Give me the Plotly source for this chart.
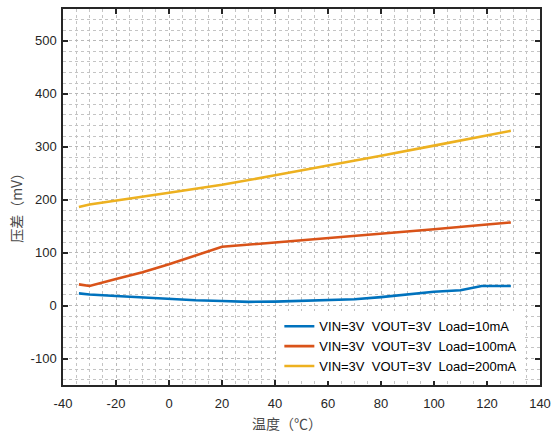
import plotly.graph_objects as go

blue_x = [-34, -30, -20, -10, 0, 10, 20, 30, 40, 50, 60, 70, 80, 90, 100, 110, 118, 129]
blue_y = [23, 21, 18, 15, 12.5, 10, 8.5, 7, 7.5, 9, 10.5, 12, 16, 21, 26, 29, 37, 37]

orange_x = [-34, -30, -20, -10, 0, 10, 20, 40, 60, 80, 100, 120, 129]
orange_y = [40, 37, 50, 63, 78, 94, 111, 119, 127, 135, 144, 153, 157]

yellow_x = [-34, -30, 0, 20, 40, 60, 80, 100, 120, 129]
yellow_y = [186, 191, 213, 228, 246, 264, 283, 302, 322, 330]

names = ["VIN=3V\u00a0\u00a0VOUT=3V\u00a0\u00a0Load=10mA",
         "VIN=3V\u00a0\u00a0VOUT=3V\u00a0\u00a0Load=100mA",
         "VIN=3V\u00a0\u00a0VOUT=3V\u00a0\u00a0Load=200mA"]
colors = ["#0072BD", "#D95319", "#EDB120"]

x_ticks = [-40, -20, 0, 20, 40, 60, 80, 100, 120, 140]
y_ticks = [-100, 0, 100, 200, 300, 400, 500]

fig = go.Figure()
for xs, ys, n, c in zip([blue_x, orange_x, yellow_x], [blue_y, orange_y, yellow_y], names, colors):
    fig.add_trace(go.Scatter(x=xs, y=ys, mode="lines", name=n,
                             line=dict(color=c, width=2.6)))

axis_common = dict(
    showline=True, linecolor="#262626", linewidth=1.5, mirror="allticks",
    ticks="inside", ticklen=5, tickwidth=1.5, tickcolor="#262626",
    zeroline=False,
    tickfont=dict(family="Liberation Sans, Arial", size=13, color="#262626"),
    showgrid=True, gridcolor="#b8b8b8", griddash="dot", gridwidth=1,
)

fig.update_xaxes(range=[-40, 140], tickvals=x_ticks, ticktext=[str(v) for v in x_ticks],
                 minor=dict(dtick=5, showgrid=True, gridcolor="#c4c4c4", griddash="dot", ticks=""),
                 ticklabelstandoff=6, **axis_common)
fig.update_yaxes(range=[-150, 560], tickvals=y_ticks, ticktext=[str(v) for v in y_ticks],
                 minor=dict(dtick=20, tick0=0, showgrid=True, gridcolor="#c4c4c4", griddash="dot", ticks=""),
                 ticklabelstandoff=2, **axis_common)

fig.update_layout(
    width=558, height=436,
    margin=dict(l=63, r=12, t=7, b=51),
    plot_bgcolor="white", paper_bgcolor="white",
    showlegend=True,
    legend=dict(x=0.963, y=0.01, xanchor="right", yanchor="bottom",
                bgcolor="white", borderwidth=0,
                font=dict(family="Liberation Sans, Arial", size=13, color="#000000")),
    annotations=[
        dict(text="温度（℃）", xref="paper", yref="paper", x=0.47, y=-0.1,
             xanchor="center", yanchor="middle", showarrow=False,
             font=dict(family="Noto Sans CJK SC", size=14, color="#4a4a4a")),
        dict(text="压差（mV）", xref="paper", yref="paper", x=-0.1, y=0.48,
             xanchor="center", yanchor="middle", showarrow=False, textangle=-90,
             font=dict(family="Noto Sans CJK SC", size=14, color="#4a4a4a")),
    ],
)

fig.write_html("out.html")
